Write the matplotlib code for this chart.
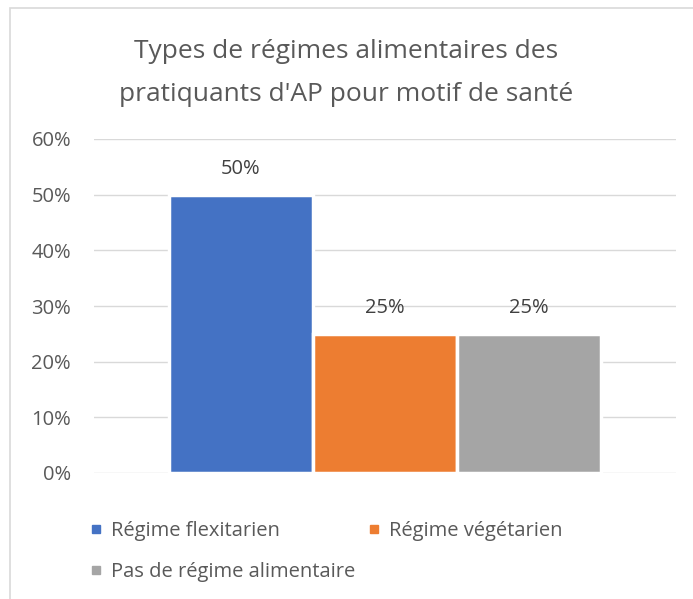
import matplotlib.pyplot as plt
from matplotlib.patches import Rectangle
from matplotlib.lines import Line2D

plt.rcParams['font.family'] = ['Open Sans', 'DejaVu Sans']

series = ['Régime flexitarien', 'Régime végétarien', 'Pas de régime alimentaire']
values = [0.50, 0.25, 0.25]
colors = ['#4472C4', '#ED7D31', '#A5A5A5']
yticks = [0, 0.1, 0.2, 0.3, 0.4, 0.5, 0.6]
title = "Types de régimes alimentaires des\npratiquants d'AP pour motif de santé"

txt = '#595959'

fig = plt.figure(figsize=(6.93, 5.99), dpi=100)
# chart border like excel
fig.patches.append(Rectangle((10/693, -0.1), 1.1, 1 - 8/599 + 0.1, transform=fig.transFigure,
                             fill=False, edgecolor='#D9D9D9', linewidth=1.2))

ax = fig.add_axes([94/693, 126/599, 582/693, 334/599])
pos = [-1, 0, 1]
for i in range(len(series)):
    ax.bar(pos[i], values[i], width=1.0, color=colors[i], edgecolor='white', linewidth=2.5, zorder=3)
    ax.text(pos[i], values[i] + 0.046, '%d%%' % round(values[i]*100), ha='center', va='center',
            fontsize=14.5, color='#404040')

ax.set_xlim(-2.02, 2.02)
ax.set_ylim(0, 0.6)
ax.set_yticks(yticks)
ax.set_yticklabels(['%d%%' % round(v*100) for v in yticks], fontsize=14.5, color=txt)
ax.set_xticks([])
ax.tick_params(axis='y', length=0, pad=16.5)
ax.grid(axis='y', color='#D9D9D9', linewidth=1)
for s in ax.spines.values():
    s.set_visible(False)

fig.text(0.5, 1 - 73/599, title, ha='center', va='center', fontsize=19, color=txt, linespacing=1.95)

# legend fills by column, so reorder to get row order flex, veg / pas
order = [0, 2, 1]
handles = [Line2D([], [], marker='s', linestyle='none', markersize=5.5, color=colors[i]) for i in order]
fig.legend(handles, [series[i] for i in order], loc='upper left', bbox_to_anchor=(72/693, 1 - 503/599),
           ncol=2, frameon=False, fontsize=14.5, labelcolor=txt, handlelength=0.6, handletextpad=0.45,
           columnspacing=0.6, labelspacing=1.05)

plt.savefig('out.png', dpi=100)
